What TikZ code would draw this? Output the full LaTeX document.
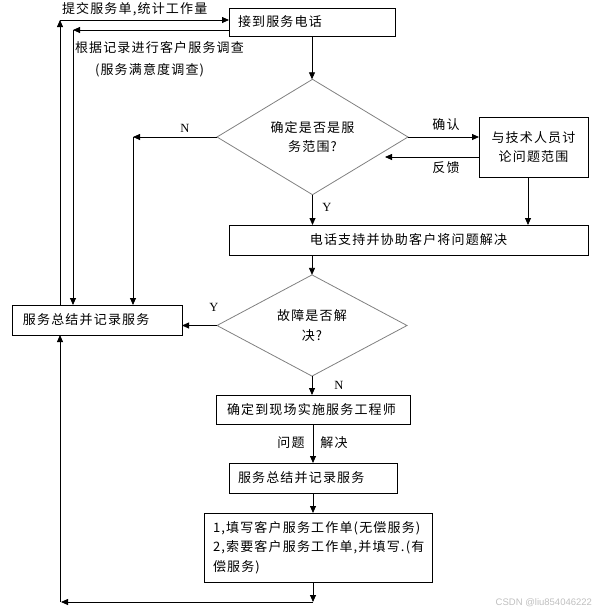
\documentclass[tikz,border=0pt]{standalone}
\usepackage{fontspec}
\newfontfamily\cjk[LetterSpace=9]{Noto Sans CJK SC}
\newfontfamily\lserif{Liberation Serif}
\newfontfamily\wmfont{Liberation Sans}
\usetikzlibrary{shapes.geometric,arrows.meta}
\begin{document}
\begin{tikzpicture}[x=1pt,y=-1pt,
  every node/.style={font=\cjk\fontsize{13}{19.5}\selectfont, inner sep=0pt, outer sep=0pt},
  box/.style={draw=black, line width=0.8pt, rectangle, align=left, inner ysep=0pt},
  dia/.style={draw=black!50, line width=0.8pt, diamond, align=center},
  arr/.style={line width=0.8pt, -{Triangle[length=7pt,width=6pt]}},
  yn/.style={font=\lserif\fontsize{12.5}{14}\selectfont},
]
\useasboundingbox (0,0) rectangle (597,614);

% boxes
\node[box, minimum height=28pt, inner xsep=9pt, text width=148pt] (b1) at (312,22) {接到服务电话};
\node[box, minimum height=60pt, inner xsep=4pt, text width=101pt, align=center] (tech) at (533.5,147) {与技术人员讨\\论问题范围};
\node[box, minimum height=30pt, inner xsep=6pt, text width=347pt, align=center] (phone) at (408.5,240) {电话支持并协助客户将问题解决};
\node[box, minimum height=30pt, inner xsep=11pt, text width=148pt] (sum1) at (97,320) {服务总结并记录服务};
\node[box, minimum height=29pt, inner xsep=11pt, text width=172pt] (onsite) at (313,409.5) {确定到现场实施服务工程师};
\node[box, minimum height=30pt, inner xsep=9pt, text width=150pt] (sum2) at (313,478) {服务总结并记录服务};
\node[box, minimum height=69pt, inner xsep=9pt, text width=210pt] (box3) at (318,547.5) {1,填写客户服务工作单(无偿服务)\\2,索要客户服务工作单,并填写.(有\\偿服务)};

% diamonds
\node[dia, minimum width=191pt, minimum height=100pt] (d1) at (312.5,137) {确定是否是服\\务范围?};
\node[dia, minimum width=190pt, minimum height=79pt] (d2) at (312,325.5) {故障是否解\\决?};

% free texts
\node[anchor=west] (t1) at (62,9) {提交服务单,统计工作量};
\node[anchor=west] (t2) at (75,48) {根据记录进行客户服务调查};
\node[anchor=west] (t3) at (95,70) {(服务满意度调查)};

% coordinates
\coordinate (c1) at (60,20);
\coordinate (c2) at (73,30);
\coordinate (c3) at (385,157);
\coordinate (c5) at (133,137);
\coordinate (c6) at (313,602);
\coordinate (c7) at (61,602);

% connectors
\draw[arr] (sum1.north -| c1) -- (c1);
\draw[arr] (c1) -- (c1 -| b1.west);
\draw[arr] (c2 -| b1.west) -- (c2);
\draw[arr] (c2) -- (c2 |- sum1.north);
\draw[arr] (b1.south) -- (b1.south |- d1.north);
\draw[arr] (d1.east) -- (d1.east -| tech.west);
\draw[arr] (c3 -| tech.west) -- (c3);
\draw[arr] ([xshift=-5.5pt]tech.south) -- ([xshift=-5.5pt]tech.south |- phone.north);
\draw[arr] (d1.south) -- (d1.south |- phone.north);
\draw[arr] (d1.west) -- (c5);
\draw[arr] (c5) -- (c5 |- sum1.north);
\draw[arr] (d2.north |- phone.south) -- (d2.north);
\draw[arr] (d2.west) -- (d2.west -| sum1.east);
\draw[arr] (d2.south) -- (d2.south |- onsite.north);
\draw[arr] (onsite.south) -- (sum2.north);
\draw[arr] (sum2.south) -- (sum2.south |- box3.north);
\draw[arr] (box3.south -| c6) -- (c6);
\draw[arr] (c6) -- (c7);
\draw[arr] (c1 |- c6) -- (c1 |- sum1.south);

% connector labels
\node (lq) at (446,125) {确认};
\node (lf) at (446,168) {反馈};
\node[yn] (ly1) at (327,207) {Y};
\node[yn] (ln1) at (185,128) {N};
\node[yn] (ly2) at (214,307) {Y};
\node[yn] (ln2) at (339,385) {N};
\node (lw) at (291,443) {问题};
\node (lj) at (334,443) {解决};

% watermark
\node[anchor=east, font=\wmfont\fontsize{9.5}{11}\selectfont, text=black!25] (wm) at (592,603) {CSDN @liu854046222};
\end{tikzpicture}
\end{document}
